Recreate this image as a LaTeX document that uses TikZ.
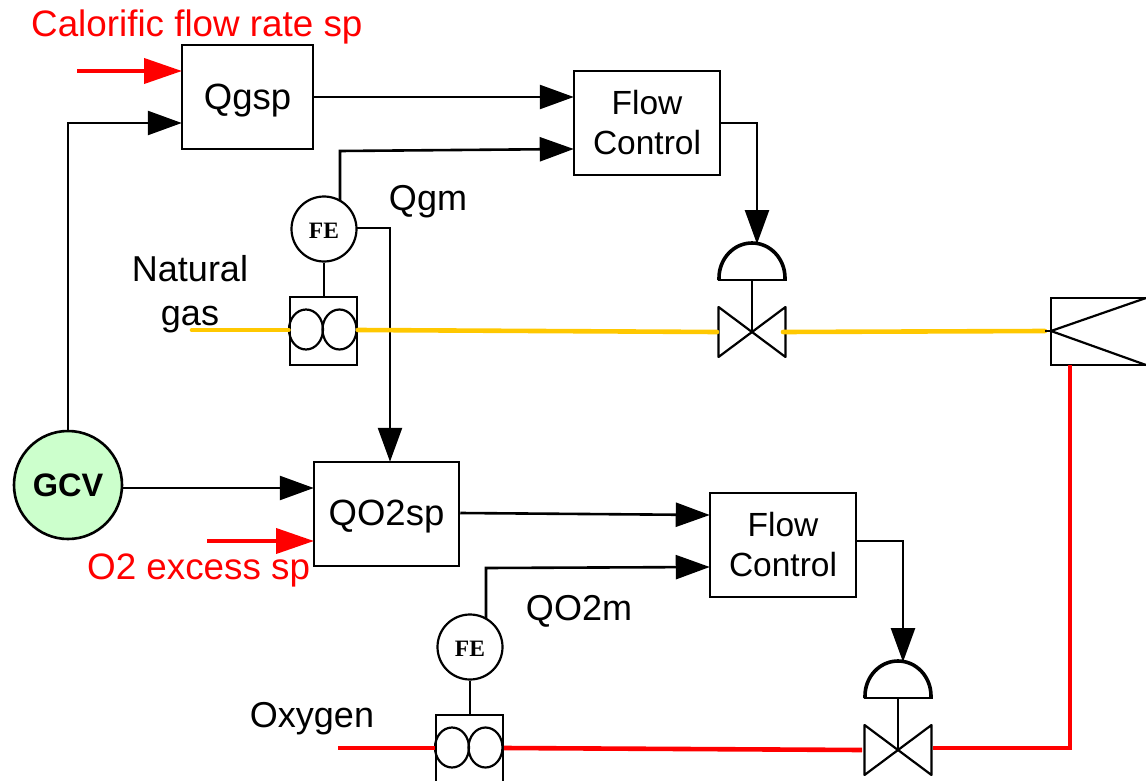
\documentclass[tikz,border=0pt]{standalone}
\usepackage{fontspec}
\setmainfont{Liberation Sans}
\newfontfamily\serifb{Liberation Serif}
\usetikzlibrary{arrows.meta,calc}
\tikzset{
 x=1pt,y=-1pt,
 boxn/.style={draw,line width=2.5pt,inner sep=0pt,align=center,font=\fontsize{36.5}{40}\selectfont},
 flowbox/.style={boxn,font=\fontsize{33.5}{40}\selectfont},
 labeltxt/.style={inner sep=0pt,font=\fontsize{36}{44}\selectfont,align=center},
 redtxt/.style={labeltxt,text=red,font=\fontsize{36.8}{44}\selectfont},
 fen/.style={draw,circle,line width=2.2pt,minimum size=65pt,inner sep=0pt,text height=18pt,text depth=0pt,font=\serifb\bfseries\fontsize{23.5}{26}\selectfont},
 sig/.style={line width=2.6pt,-{Triangle[length=34pt,width=24pt]},shorten >=-1pt},
 redsig/.style={line width=4pt,red,-{Triangle[length=38pt,width=25pt]}},
 plain/.style={line width=2.2pt},
 gasline/.style={line width=4.6pt,color={rgb,255:red,255;green,200;blue,0},line cap=round},
 oxline/.style={line width=4.6pt,red},
 metbox/.style={draw,line width=2.4pt,inner sep=0pt,anchor=north west},
}
\newcommand{\meter}[3]{% name, x, y (top-left)
 \node[metbox,minimum width=67pt,minimum height=68pt] (#1) at (#2,#3) {};
 \draw[plain] (#2+17.5,#3+34) circle[x radius=17,y radius=20];
 \draw[plain] (#2+51,#3+34) circle[x radius=17,y radius=20];
}
\newcommand{\valve}[2]{% centre x, centre y
 \draw[line width=2.2pt,line join=round] (#1,#2) -- (#1-33.5,#2-25) -- (#1-33.5,#2+25) -- cycle;
 \draw[line width=2.2pt,line join=round] (#1,#2) -- (#1+33.5,#2-25) -- (#1+33.5,#2+25) -- cycle;
 \draw[plain] (#1,#2) -- (#1,#2-52);
 \draw[line width=2.8pt] (#1-34.5,#2-52) -- (#1+34.5,#2-52);
 \draw[line width=3.6pt] (#1-33,#2-52) -- (#1-33,#2-54) arc[start angle=180,end angle=0,x radius=33,y radius=-35] -- (#1+33,#2-52);
}
\begin{document}
\begin{tikzpicture}
\useasboundingbox (0,0) rectangle (1146,781);
% boxes
\node[boxn,minimum width=131pt,minimum height=104pt,text height=32pt,text depth=7pt] (qgsp) at (247.5,97) {Qgsp};
\node[flowbox,minimum width=146pt,minimum height=104pt] (fc1) at (647,123) {Flow\\Control};
\node[boxn,minimum width=145pt,minimum height=104pt,text height=30pt,text depth=7pt] (qo2) at (386.5,514) {QO2sp};
\node[flowbox,minimum width=146pt,minimum height=104pt] (fc2) at (783,545) {Flow\\Control};
\node[draw,circle,line width=2.6pt,fill={rgb,255:red,204;green,255;blue,204},minimum size=108pt,inner sep=0pt,font=\bfseries\fontsize{32.5}{36}\selectfont] (gcv) at (68,485) {GCV};
\node[fen] (fe1) at (324,229) {FE};
\node[fen] (fe2) at (470,647) {FE};
% meters and valves
\meter{m1}{288.5}{295.5}
\meter{m2}{434.5}{713.5}
\valve{752}{332}
\valve{898}{750}
% burner
\draw[line width=2.2pt] (1146,298) -- (1051,298) -- (1051,365) -- (1146,365);
\draw[line width=2.2pt] (1146,298) -- (1051,331) -- (1146,365);
% named free ends
\coordinate (r1) at (77,71);
\coordinate (r1e) at (182,71);
\coordinate (r2) at (207,541);
\coordinate (r2e) at (314,541);
\coordinate (ng) at (192,330);
\coordinate (ox) at (338,748);
\coordinate (v1l) at (717,332);
\coordinate (v1r) at (783,332);
\coordinate (v2l) at (862,750);
\coordinate (v2r) at (933,748);
\coordinate (bn) at (1045,331);
\coordinate (bo) at (1070,365);
\coordinate (vt1) at (757,243);
\coordinate (vt2) at (903,661);
% signal lines
\draw[sig] (qgsp.east|-0,97) -- (fc1.west|-0,97);
\draw[sig] (68,431) -- (68,123) -- (qgsp.west|-0,123);
\draw[sig] (gcv.east|-0,488) -- (qo2.west|-0,488);
\draw[sig] (340,201) -- (340,151) -- (fc1.west|-0,149);
\draw[sig] (fc1.east|-0,123) -- (757,123) -- (vt1);
\draw[sig] (357,228) -- (390,228) -- (qo2.north-|390,0);
\draw[sig] (qo2.east|-0,513) -- (fc2.west|-0,515);
\draw[sig] (486,619) -- (486,568) -- (fc2.west|-0,567);
\draw[sig] (fc2.east|-0,541) -- (903,541) -- (vt2);
\draw[plain] (fe1.south) -- (m1.north-|fe1.south);
\draw[plain] (fe2.south) -- (m2.north-|fe2.south);
\draw[redsig] (r1) -- (r1e);
\draw[redsig] (r2) -- (r2e);
% process lines
\draw[gasline] (ng) -- (m1.west|-ng);
\draw[gasline] (m1.east|-ng) -- (v1l);
\draw[gasline] (v1r) -- (bn);
\draw[line width=2.2pt] (bn) -- (1051,331);
\draw[oxline] (ox) -- (m2.west|-ox);
\draw[oxline] (m2.east|-ox) -- (v2l);
\draw[oxline,line join=miter] (v2r) -- (1070,748) -- (bo);
% labels
\node[redtxt,anchor=west] (t1) at (31,27) {Calorific flow rate sp};
\node[redtxt,anchor=west] (t2) at (87,570) {O2 excess sp};
\node[labeltxt] (t3) at (428,202) {Qgm};
\node[labeltxt] (t4) at (190,294) {Natural\\gas};
\node[labeltxt] (t5) at (579,611) {QO2m};
\node[labeltxt] (t6) at (312,719) {Oxygen};
\end{tikzpicture}
\end{document}
